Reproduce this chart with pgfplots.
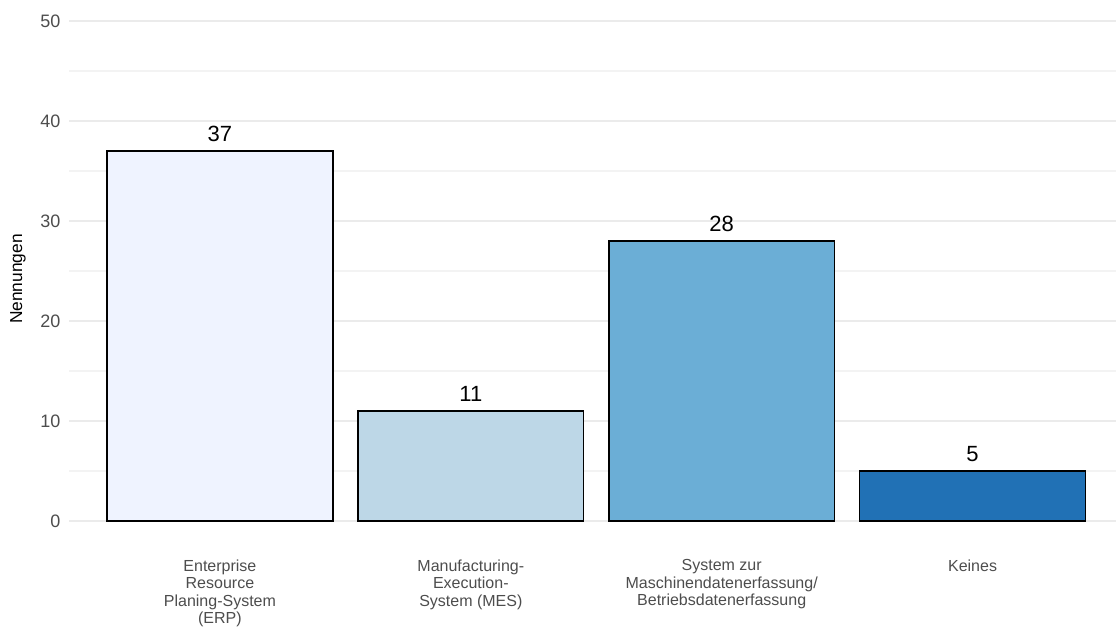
\documentclass[border=0pt]{standalone}
\usepackage{pgfplots}
\pgfplotsset{compat=1.18}
\usepackage{fontspec}
\setmainfont{Liberation Sans}
\definecolor{c1}{HTML}{EFF3FF}
\definecolor{c2}{HTML}{BDD7E7}
\definecolor{c3}{HTML}{6BAED6}
\definecolor{c4}{HTML}{2171B5}
\definecolor{grid}{HTML}{EBEBEB}
\definecolor{tick}{HTML}{4D4D4D}
\begin{document}
\begin{tikzpicture}
\useasboundingbox (-52.05pt,-78.75pt) rectangle (784.95pt,390.75pt);
\begin{axis}[
  name=ax,
  scale only axis,
  width=784.95pt, height=390pt,
  xmin=0.4, xmax=4.5717,
  ymin=0, ymax=52,
  axis line style={draw=none},
  tick style={draw=none},
  ytick={0,10,20,30,40,50},
  minor ytick={5,15,25,35,45},
  ymajorgrids, yminorgrids,
  major grid style={draw=grid, line width=1.1pt},
  minor grid style={draw=grid!60, line width=0.8pt},
  xtick={1,2,3,4},
  xticklabels={{Enterprise\\Resource\\Planing-System\\(ERP)},{Manufacturing-\\Execution-\\System (MES)},{System zur\\Maschinendatenerfassung/\\Betriebsdatenerfassung},{Keines}},
  xticklabel style={align=center, font=\fontsize{12}{13.1}\selectfont, text=tick, yshift=-25.5pt},
  yticklabel style={font=\fontsize{13.5}{15}\selectfont, text=tick, xshift=-3.25pt},
  /pgf/number format/assume math mode=true,
  major tick length=0pt,
  clip=false,
]
\addplot[ybar, bar width=0.9, draw=black, line width=1.1pt, fill=c1] coordinates {(1,37)};
\addplot[ybar, bar width=0.9, draw=black, line width=1.1pt, fill=c2] coordinates {(2,11)};
\addplot[ybar, bar width=0.9, draw=black, line width=1.1pt, fill=c3] coordinates {(3,28)};
\addplot[ybar, bar width=0.9, draw=black, line width=1.1pt, fill=c4] coordinates {(4,5)};
\addplot[only marks, mark=none, nodes near coords, point meta=explicit symbolic,
  every node near coord/.style={font=\fontsize{16.5}{19}\selectfont, text=black, anchor=base, yshift=7.5pt}]
  coordinates {(1,37)[37] (2,11)[11] (3,28)[28] (4,5)[5]};
\node[rotate=90, anchor=center, font=\fontsize{13}{15}\selectfont, text=black] at (axis cs:0.1954,24.2) {Nennungen};
\end{axis}
\end{tikzpicture}
\end{document}
